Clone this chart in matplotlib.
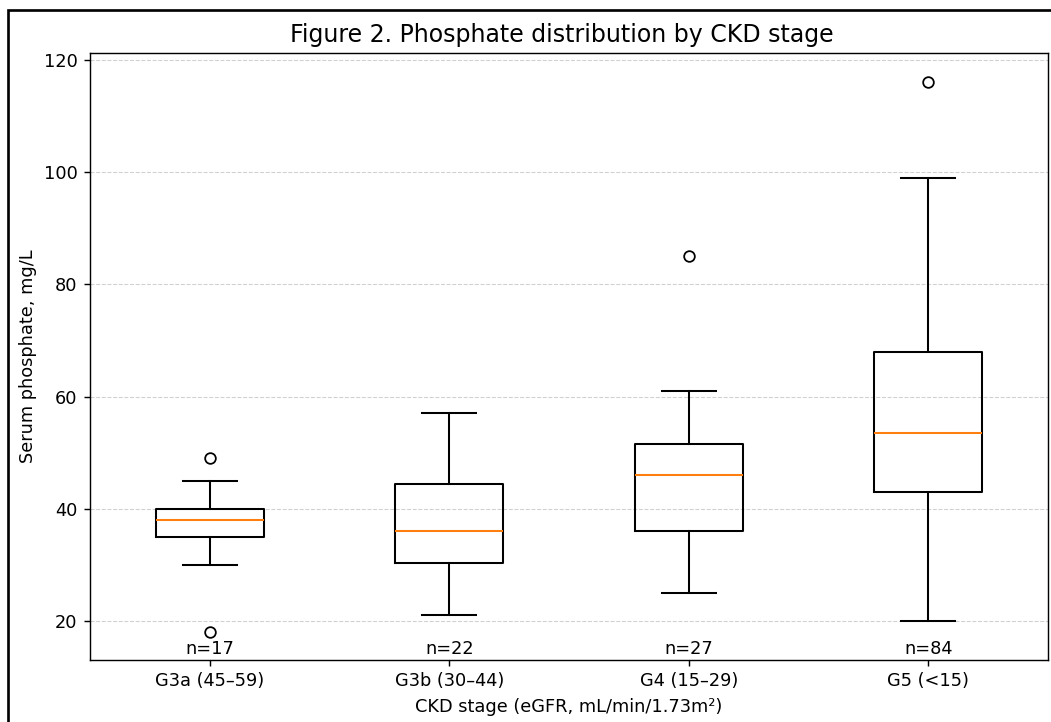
import numpy as np
import matplotlib.pyplot as plt
from matplotlib.patches import Rectangle

# summary stats (mg/L)
stages = ["G3a (45–59)", "G3b (30–44)", "G4 (15–29)", "G5 (<15)"]
counts = [17, 22, 27, 84]
whisk_lo = [30, 21, 25, 20]
q1 = [35, 30.3, 36, 43]
median = [38, 36, 46, 53.5]
q3 = [40, 44.5, 51.5, 68]
whisk_hi = [45, 57, 61, 99]
fliers = [[49, 18], [], [85], [116]]

stats = []
for i in range(len(stages)):
    stats.append(dict(label=stages[i], whislo=whisk_lo[i], q1=q1[i], med=median[i],
                      q3=q3[i], whishi=whisk_hi[i], fliers=fliers[i]))

dpi = 128
fig = plt.figure(figsize=(1051 / dpi, 722 / dpi), dpi=dpi)
ax = fig.add_axes([90 / 1051, 1 - 660 / 722, (1048 - 90) / 1051, (660 - 53) / 722])

lw = 1.15
ax.bxp(stats, showfliers=True,
       boxprops=dict(linewidth=lw), whiskerprops=dict(linewidth=lw),
       capprops=dict(linewidth=lw), medianprops=dict(linewidth=lw, color="C1"))
ax.set_ylim(13.05, 121.25)
ax.yaxis.grid(True, linestyle="--", linewidth=0.6, color="#d0d0d0")
ax.set_axisbelow(True)

# sample sizes just above the x axis
trans = ax.get_xaxis_transform()
for i, n in enumerate(counts):
    ax.text(i + 1, 0.003, f"n={n}", transform=trans, ha="center", va="bottom", fontsize=10)

ax.set_title("Figure 2. Phosphate distribution by CKD stage", fontsize=13.3, x=0.492)
ax.set_xlabel("CKD stage (eGFR, mL/min/1.73m²)")
ax.set_ylabel("Serum phosphate, mg/L")

# outer frame (cropped screenshot border)
fig.add_artist(Rectangle((8 / 1051, -0.1), 1.2, 1.1 - 10 / 722,
                         transform=fig.transFigure, fill=False, lw=1.5,
                         edgecolor="black", clip_on=False))

fig.savefig("out.png", dpi=dpi)
